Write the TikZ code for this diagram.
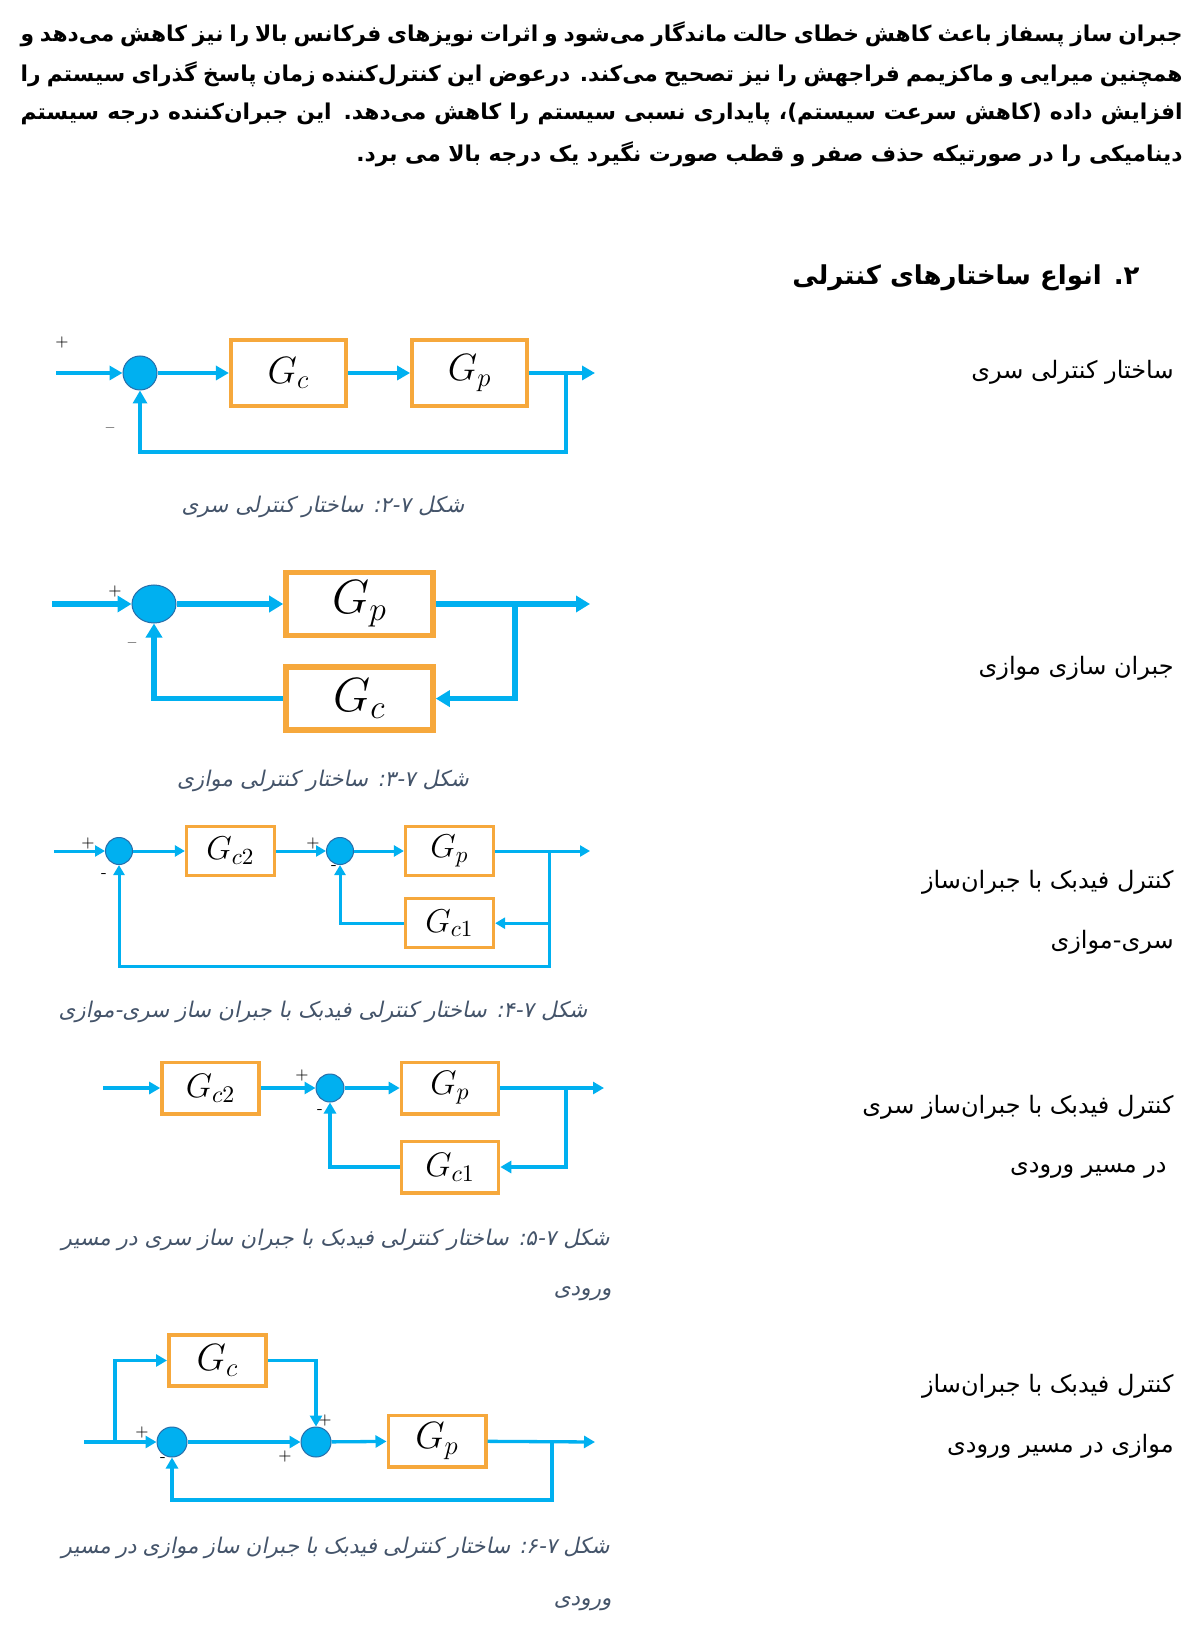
\RequirePackage{fix-cm}
\documentclass[tikz,border=0pt]{standalone}
\usepackage{fontspec}
\usetikzlibrary{positioning, arrows.meta, shapes.geometric}
\newfontfamily\fa[Script=Arabic]{DejaVu Sans}
\newfontfamily\faslant[Script=Arabic, FakeSlant=0.2]{DejaVu Sans}
\TeXXeTstate=1
\newcommand{\zwnj}{^^^^200c}
\definecolor{lineblue}{RGB}{0,176,240}
\definecolor{sumedge}{RGB}{40,110,170}
\definecolor{boxorange}{RGB}{246,168,60}
\definecolor{capgrey}{RGB}{68,84,106}

\begin{document}
\begin{tikzpicture}[x=0.5pt, y=-0.5pt,
    block/.style={draw=boxorange, rectangle, fill=white, inner sep=0pt},
    junction/.style={circle, draw=sumedge, fill=lineblue, line width=0.5pt, inner sep=0pt},
    wire/.style={draw=lineblue},
    flow/.style={wire, -{Triangle[length=6pt, width=6.5pt]}},
    sign/.style={inner sep=0pt, font=\fontsize{8}{9}\selectfont},
    para/.style={inner sep=0pt, anchor=east, font=\fa\bfseries\fontsize{10.9}{12}\selectfont},
    sidetext/.style={inner sep=0pt, anchor=east, font=\fa\fontsize{12}{14}\selectfont},
    figcap/.style={inner sep=0pt, text=capgrey, font=\faslant\fontsize{10.8}{13}\selectfont},
]
\path[use as bounding box, fill=white] (0,0) rectangle (1200,1625);

% Paragraph and heading
\node[para] (line1) at (1183,34) {\hbox to 581pt{\beginR جبران ساز پسفاز باعث کاهش خطای حالت ماندگار می\zwnj{}شود و اثرات نویزهای فرکانس بالا را نیز کاهش می\zwnj{}دهد و\endR}};
\node[para] (line2) at (1183,74) {\hbox to 581pt{\beginR همچنین میرایی و ماکزیمم فراجهش را نیز تصحیح می\zwnj{}کند. درعوض این کنترل\zwnj{}کننده زمان پاسخ گذرای سیستم را\endR}};
\node[para] (line3) at (1183,114) {\hbox to 581pt{\beginR افزایش داده (کاهش سرعت سیستم)، پایداری نسبی سیستم را کاهش می\zwnj{}دهد. این جبران\zwnj{}کننده درجه سیستم\endR}};
\node[para] (line4) at (1183,154) {\beginR دینامیکی را در صورتیکه حذف صفر و قطب صورت نگیرد یک درجه بالا می برد.\endR};
\node[para, font=\fa\bfseries\fontsize{13}{16}\selectfont] (heading) at (1140,278) {\beginR ۲. انواع ساختارهای کنترلی\endR};

% Series structure
\begin{scope}[wire/.append style={line width=2.1pt},
    flow/.style={wire, -{Triangle[length=6.5pt, width=7pt]}},
    block/.append style={line width=2.1pt, minimum width=57.5pt, minimum height=33pt, font=\fontsize{19}{22}\selectfont}]
\coordinate (in1) at (56,373);
\node (sum1) [junction, minimum size=17pt] at (140,373) {};
\node (gc1) [block] at (288.5,373) {$G_c$};
\node (gp1) [block, right=31pt of gc1] {$G_p$};
\coordinate (out1) at (595,373);
\coordinate (br1) at (566,373);
\coordinate (fb1) at (566,452);
\node[sign] (plus1) at (62,343) {+};
\node[sign] (minus1) at (110,430) {--};
\draw[flow] (in1) -- (sum1);
\draw[flow] (sum1) -- (gc1);
\draw[flow] (gc1) -- (gp1);
\draw[flow] (gp1) -- (out1);
\draw[flow] (br1) -- (fb1) -| (sum1);
\end{scope}
\node[figcap] (cap1) at (323,507) {\beginR شکل ۲-۷: ساختار کنترلی سری\endR};
\node[sidetext] (side1) at (1174,372) {\beginR ساختار کنترلی سری\endR};

% Parallel structure
\begin{scope}[wire/.append style={line width=2.8pt},
    flow/.style={wire, -{Triangle[length=7pt, width=8pt]}},
    block/.append style={line width=2.8pt, minimum width=73.5pt, minimum height=31.5pt, font=\fontsize{24}{28}\selectfont}]
\coordinate (in2) at (52,604);
\node (sum2) [junction, ellipse, minimum width=22pt, minimum height=19pt] at (154,604) {};
\node (gp2) [block] at (359.5,604) {$G_p$};
\node (gc2) [block, below=13pt of gp2] {$G_c$};
\coordinate (out2) at (590,604);
\coordinate (br2) at (515,604);
\node[sign] (plus2) at (115,591) {+};
\node[sign] (minus2) at (132,645) {--};
\draw[flow] (in2) -- (sum2);
\draw[flow] (sum2) -- (gp2);
\draw[flow] (gp2) -- (out2);
\draw[flow] (br2) |- (gc2);
\draw[flow] (gc2) -| (sum2);
\end{scope}
\node[figcap] (cap2) at (323,781) {\beginR شکل ۳-۷: ساختار کنترلی موازی\endR};
\node[sidetext] (side2) at (1174,668) {\beginR جبران سازی موازی\endR};

% Series-parallel compensator
\begin{scope}[wire/.append style={line width=1.5pt},
    flow/.style={wire, -{Triangle[length=5pt, width=5.5pt]}},
    block/.append style={line width=1.6pt, minimum width=44pt, minimum height=24.5pt, font=\fontsize{16.5}{19}\selectfont}]
\coordinate (in3) at (54,851);
\node (suma3) [junction, minimum size=13.5pt] at (119,851) {};
\node (gc23) [block] at (230.5,851) {$G_{c2}$};
\node (sumb3) [junction, minimum size=13.5pt] at (340,851) {};
\node (gp3) [block] at (449.5,851) {$G_p$};
\node (gc13) [block, below=10pt of gp3] {$G_{c1}$};
\coordinate (out3) at (590,851);
\coordinate (br3) at (549,851);
\coordinate (fb3) at (549,966);
\node[sign] (plusa3) at (88,843) {+};
\node[sign] (minusa3) at (104,876) {-};
\node[sign] (plusb3) at (313,843) {+};
\node[sign] (minusb3) at (334,868) {-};
\draw[flow] (in3) -- (suma3);
\draw[flow] (suma3) -- (gc23);
\draw[flow] (gc23) -- (sumb3);
\draw[flow] (sumb3) -- (gp3);
\draw[flow] (gp3) -- (out3);
\draw[flow] (br3) |- (gc13);
\draw[flow] (gc13) -| (sumb3);
\draw[flow] (br3) -- (fb3) -| (suma3);
\end{scope}
\node[figcap] (cap3) at (323,1012) {\beginR شکل ۴-۷: ساختار کنترلی فیدبک با جبران ساز سری-موازی\endR};
\node[sidetext] (side3a) at (1174,882) {\beginR کنترل فیدبک با جبران\zwnj{}ساز\endR};
\node[sidetext] (side3b) at (1174,942) {\beginR سری-موازی\endR};

% Series compensator in the input path
\begin{scope}[wire/.append style={line width=1.65pt},
    flow/.style={wire, -{Triangle[length=5.5pt, width=6pt]}},
    block/.append style={line width=1.8pt, minimum width=48.5pt, minimum height=25.7pt, font=\fontsize{17}{20}\selectfont}]
\coordinate (in4) at (103,1088);
\node (gc24) [block] at (210.5,1088) {$G_{c2}$};
\node (sum4) [junction, minimum size=14pt] at (330,1088) {};
\node (gp4) [block] at (450,1088) {$G_p$};
\node (gc14) [block, below=12pt of gp4] {$G_{c1}$};
\coordinate (out4) at (604,1088);
\coordinate (br4) at (566,1088);
\node[sign] (plus4) at (302,1075) {+};
\node[sign] (minus4) at (320,1112) {-};
\draw[flow] (in4) -- (gc24);
\draw[flow] (gc24) -- (sum4);
\draw[flow] (sum4) -- (gp4);
\draw[flow] (gp4) -- (out4);
\draw[flow] (br4) |- (gc14);
\draw[flow] (gc14) -| (sum4);
\end{scope}
\node[figcap, anchor=east] (cap4a) at (610,1240) {\hbox to 274pt{\beginR شکل ۵-۷: ساختار کنترلی فیدبک با جبران ساز سری در مسیر\endR}};
\node[figcap, anchor=east] (cap4b) at (612,1294) {\beginR ورودی\endR};
\node[sidetext] (side4a) at (1174,1107) {\beginR کنترل فیدبک با جبران\zwnj{}ساز سری\endR};
\node[sidetext] (side4b) at (1167,1170) {\beginR در مسیر ورودی\endR};

% Parallel compensator in the input path
\begin{scope}[wire/.append style={line width=1.65pt},
    flow/.style={wire, -{Triangle[length=5.5pt, width=6pt]}},
    block/.append style={line width=1.8pt, minimum width=48.7pt, minimum height=25.7pt, font=\fontsize{19}{22}\selectfont}]
\coordinate (in5) at (84,1442);
\coordinate (tap5) at (115,1442);
\node (gc5) [block] at (217.5,1360.5) {$G_c$};
\node (suma5) [junction, minimum size=15pt] at (172,1442) {};
\node (sumb5) [junction, minimum size=15pt] at (316,1442) {};
\node (gp5) [block] at (437,1441) {$G_p$};
\coordinate (out5) at (595,1442);
\coordinate (br5) at (552,1442);
\coordinate (fb5) at (552,1500);
\node[sign] (plusa5) at (142,1432) {+};
\node[sign] (minusa5) at (163,1459) {-};
\node[sign] (plusb5) at (285,1456) {+};
\node[sign] (plusc5) at (325,1420) {+};
\draw[flow] (in5) -- (suma5);
\draw[flow] (tap5) |- (gc5);
\draw[flow] (gc5) -| (sumb5);
\draw[flow] (suma5) -- (sumb5);
\draw[flow] (sumb5) -- (gp5);
\draw[flow] (gp5) -- (out5);
\draw[flow] (br5) -- (fb5) -| (suma5);
\end{scope}
\node[figcap, anchor=east] (cap5a) at (610,1548) {\hbox to 274pt{\beginR شکل ۶-۷: ساختار کنترلی فیدبک با جبران ساز موازی در مسیر\endR}};
\node[figcap, anchor=east] (cap5b) at (612,1604) {\beginR ورودی\endR};
\node[sidetext] (side5a) at (1174,1386) {\beginR کنترل فیدبک با جبران\zwnj{}ساز\endR};
\node[sidetext] (side5b) at (1174,1446) {\beginR موازی در مسیر ورودی\endR};

\end{tikzpicture}
\end{document}
